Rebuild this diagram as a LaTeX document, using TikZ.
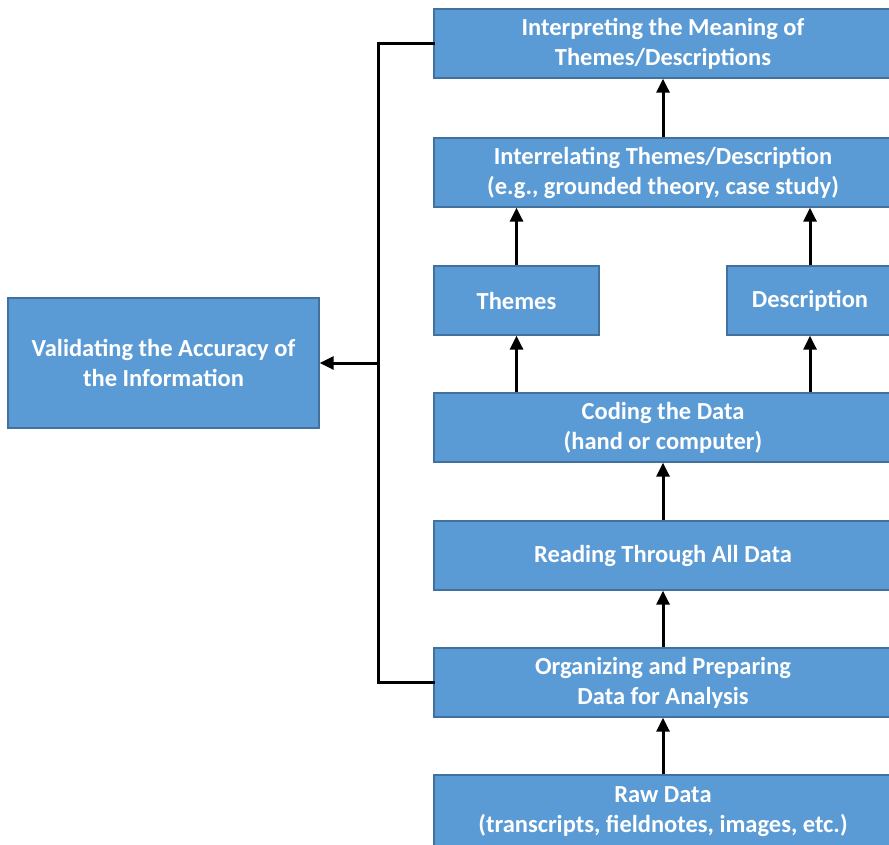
\documentclass[tikz,border=0pt]{standalone}
\usepackage{fontspec}
\setmainfont{Carlito}
\usetikzlibrary{arrows.meta}
\begin{document}
\begin{tikzpicture}[x=1pt,y=-1pt,
  box/.style={draw=boxedge, fill=boxfill, line width=1.3pt, text=white,
    font=\fontsize{24.5}{30}\selectfont\bfseries, align=center, inner sep=0pt},
  arr/.style={line width=3pt, -{Triangle[width=13pt,length=14pt]}},
  link/.style={line width=3pt}]
\definecolor{boxfill}{HTML}{5B9BD5}
\definecolor{boxedge}{HTML}{41719C}
\useasboundingbox (0,0) rectangle (889,845);
\clip (0,0) rectangle (889,845);
% process steps (right column)
\node[box, minimum width=458pt, minimum height=69pt] (interp) at (663,43.5)
  {Interpreting the Meaning of\\Themes/Descriptions};
\node[box, minimum width=458pt, minimum height=69pt] (interrel) at (663,172.5)
  {Interrelating Themes/Description\\(e.g., grounded theory, case study)};
\node[box, minimum width=165pt, minimum height=69pt] (themes) at (516.5,300.5)
  {Themes};
\node[box, minimum width=166pt, minimum height=69pt] (descr) at (810,300.5)
  {Description};
\node[box, minimum width=458pt, minimum height=69pt] (coding) at (663,427.5)
  {Coding the Data\\(hand or computer)};
\node[box, minimum width=458pt, minimum height=69pt] (reading) at (663,555.5)
  {Reading Through All Data};
\node[box, minimum width=458pt, minimum height=69pt] (organ) at (663,682.5)
  {Organizing and Preparing\\Data for Analysis};
\node[box, minimum width=458pt, minimum height=74pt] (raw) at (663,812)
  {Raw Data\\(transcripts, fieldnotes, images, etc.)};
% validation box (left)
\node[box, minimum width=311pt, minimum height=130pt] (valid) at (163.5,363)
  {Validating the Accuracy of\\the Information};
% upward flow
\draw[arr] (raw.north) -- (organ.south);
\draw[arr] (organ.north) -- (reading.south);
\draw[arr] (reading.north) -- (coding.south);
\draw[arr] (coding.north -| themes.south) -- (themes.south);
\draw[arr] (coding.north -| descr.south) -- (descr.south);
\draw[arr] (themes.north) -- (interrel.south -| themes.north);
\draw[arr] (descr.north) -- (interrel.south -| descr.north);
\draw[arr] (interrel.north) -- (interp.south);
% validation bracket
\coordinate (bx) at (378,363);
\draw[link, line cap=rect] (interp.west) -- (interp.west -| bx) -- (organ.west -| bx) -- (organ.west);
\draw[arr] (bx) -- (valid.east);
\end{tikzpicture}
\end{document}
